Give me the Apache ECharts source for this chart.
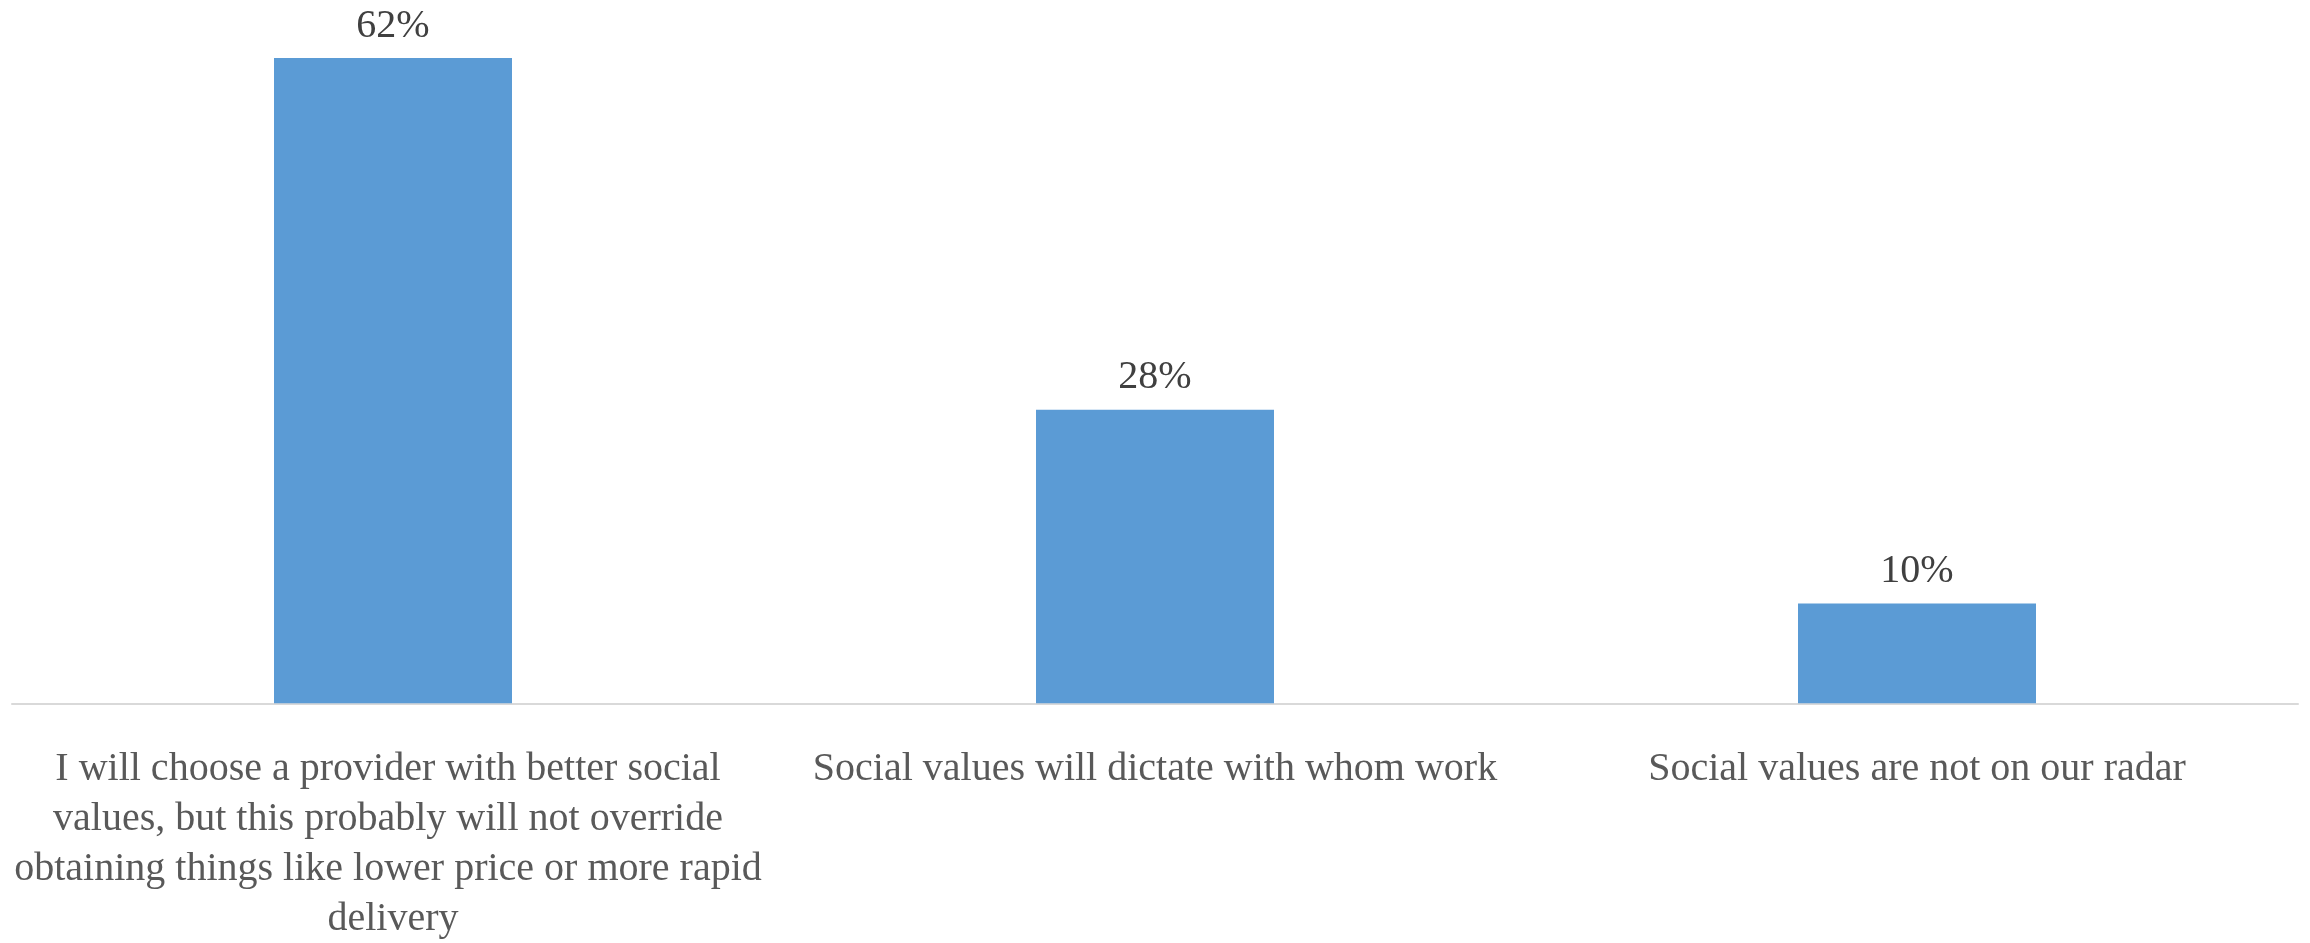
<!DOCTYPE html>
<html>
<head>
<meta charset="utf-8">
<script src="https://cdn.jsdelivr.net/npm/echarts@6/dist/echarts.min.js"></script>
<style>
html,body{margin:0;padding:0;background:#fff;}
#chart{width:2310px;height:943px;}
</style>
</head>
<body>
<div id="chart"></div>
<script>
const categories = [
  "I will choose a provider with better social values, but this probably will not override obtaining things like lower price or more rapid delivery",
  "Social values will dictate with whom work",
  "Social values are not on our radar"
];
const values = [62, 28.2, 9.6];

const chart = echarts.init(document.getElementById('chart'), null, {renderer: 'canvas'});
chart.setOption({
  animation: false,
  backgroundColor: '#ffffff',
  grid: {left: 12, right: 12, top: 26.8, bottom: 239.7, containLabel: false, outerBoundsMode: 'none'},
  xAxis: {
    type: 'category',
    data: categories,
    axisLine: {show: true, lineStyle: {color: '#d9d9d9', width: 2}},
    axisTick: {show: false},
    axisLabel: {
      interval: 0,
      margin: 41,
      width: 764,
      overflow: 'break',
      fontFamily: "'Liberation Serif', serif",
      fontSize: 40,
      lineHeight: 50,
      color: '#595959',
      align: 'center'
    }
  },
  yAxis: {
    type: 'value',
    min: 0,
    max: 65,
    show: false,
    splitLine: {show: false}
  },
  series: [{
    type: 'bar',
    data: values,
    barWidth: 238,
    itemStyle: {color: '#5B9BD5'},
    label: {
      show: true,
      position: 'top',
      distance: 12,
      fontFamily: "'Liberation Serif', serif",
      fontSize: 40,
      color: '#404040',
      formatter: p => Math.round(p.value) + '%'
    }
  }]
});
</script>
</body>
</html>
